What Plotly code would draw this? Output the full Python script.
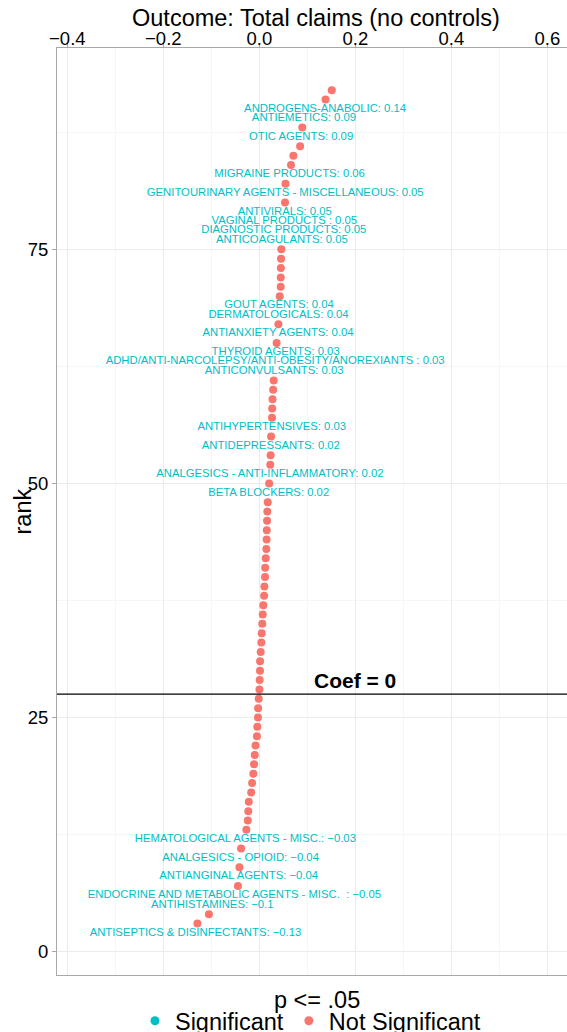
import plotly.graph_objects as go

# Drug classes ranked by coefficient (outcome: total claims, no controls)
# Classes that are not significant at p <= .05: drawn as points
ns_rank = [3, 4, 7, 9, 11,
           13, 14, 15, 16, 17, 18, 19, 20, 21, 22, 23, 24, 25, 26, 27, 28, 29, 30,
           31, 32, 33, 34, 35, 36, 37, 38, 39, 40, 41, 42, 43, 44, 45, 46, 47, 48,
           50, 52, 53, 55, 57, 58, 59, 60, 61, 65, 67, 70, 71, 72, 73, 74, 75,
           80, 82, 84, 85, 86, 88, 91, 92]
ns_coef = [-0.129, -0.105, -0.0445, -0.0415, -0.038,
           -0.027, -0.024, -0.023, -0.022, -0.017, -0.015, -0.0125, -0.011, -0.0095,
           -0.008, -0.005, -0.0042, -0.0028, -0.0025, -0.0013, 0.0002, 0.0008, 0.0014,
           0.0016, 0.0029, 0.0042, 0.0050, 0.0062, 0.0071, 0.0083, 0.0100, 0.0106,
           0.0119, 0.0121, 0.0133, 0.0146, 0.0152, 0.0155, 0.0161, 0.0167, 0.0175,
           0.0205, 0.0228, 0.0235, 0.0245, 0.0264, 0.0268, 0.0275, 0.0288, 0.0300,
           0.036, 0.0398, 0.0425, 0.0445, 0.0447, 0.0449, 0.0452, 0.0458,
           0.0535, 0.0545, 0.066, 0.071, 0.085, 0.0895, 0.138, 0.151]

# Classes significant at p <= .05: drawn as labels "CLASS: coef"
sig_rank = [2, 5, 6, 8, 10, 12, 49, 51, 54, 56, 62, 63, 64, 66, 68, 69,
            76, 77, 78, 79, 81, 83, 87, 89, 90]
sig_class = [
    "ANTISEPTICS & DISINFECTANTS",
    "ANTIHISTAMINES",
    "ENDOCRINE AND METABOLIC AGENTS - MISC.\u00a0 ",
    "ANTIANGINAL AGENTS",
    "ANALGESICS - OPIOID",
    "HEMATOLOGICAL AGENTS - MISC.",
    "BETA BLOCKERS",
    "ANALGESICS - ANTI-INFLAMMATORY",
    "ANTIDEPRESSANTS",
    "ANTIHYPERTENSIVES",
    "ANTICONVULSANTS",
    "ADHD/ANTI-NARCOLEPSY/ANTI-OBESITY/ANOREXIANTS ",
    "THYROID AGENTS",
    "ANTIANXIETY AGENTS",
    "DERMATOLOGICALS",
    "GOUT AGENTS",
    "ANTICOAGULANTS",
    "DIAGNOSTIC PRODUCTS",
    "VAGINAL PRODUCTS ",
    "ANTIVIRALS",
    "GENITOURINARY AGENTS - MISCELLANEOUS",
    "MIGRAINE PRODUCTS",
    "OTIC AGENTS",
    "ANTIEMETICS",
    "ANDROGENS-ANABOLIC",
]
sig_coef = [-0.133, -0.098, -0.052, -0.043, -0.039, -0.029, 0.0195, 0.022, 0.024,
            0.026, 0.031, 0.033, 0.034, 0.039, 0.040, 0.041, 0.047, 0.051, 0.052,
            0.053, 0.054, 0.063, 0.087, 0.093, 0.137]

x_range = [-0.4215, 0.641]
y_range = [-2.5, 96.5]
zero_line_rank = 27.5

RED = "#F8766D"
CYAN = "#00BFC4"
FONT = "Liberation Sans, Arial, Helvetica, sans-serif"
GRID = "#EBEBEB"
GRID_MINOR = "#F6F6F6"
AXIS = "#A8A8A8"


def fmt(v):
    s = f"{round(v, 2):g}"
    return s.replace("-", "\u2212")


sig_text = [f"{name}: {fmt(v)}" for name, v in zip(sig_class, sig_coef)]

fig = go.Figure()

fig.add_trace(go.Scatter(
    x=ns_coef, y=ns_rank, mode="markers",
    marker=dict(color=RED, size=8, line=dict(width=0)),
    name="Not Significant", showlegend=False, hoverinfo="x+y",
))
fig.add_trace(go.Scatter(
    x=sig_coef, y=sig_rank, mode="text", text=sig_text,
    textposition="middle center",
    textfont=dict(color=CYAN, size=11.3, family=FONT),
    name="Significant", showlegend=False,
))

# legend keys
fig.add_trace(go.Scatter(x=[None], y=[None], mode="markers",
                         marker=dict(color=CYAN, size=9), name="Significant"))
fig.add_trace(go.Scatter(x=[None], y=[None], mode="markers",
                         marker=dict(color=RED, size=9), name="Not Significant"))

fig.add_shape(type="line", xref="paper", x0=0, x1=1, yref="y",
              y0=zero_line_rank, y1=zero_line_rank,
              line=dict(color="black", width=1.2), layer="above")
fig.add_annotation(x=0.2, y=zero_line_rank + 1.5, xref="x", yref="y",
                   text="<b>Coef = 0</b>", showarrow=False,
                   font=dict(size=21, color="black", family=FONT),
                   xanchor="center", yanchor="middle")

# axis titles
fig.add_annotation(x=0.5078, y=1.0324, xref="paper", yref="paper",
                   text="Outcome: Total claims (no controls)", showarrow=False,
                   font=dict(size=23.5, color="black", family=FONT),
                   xanchor="center", yanchor="middle")
fig.add_annotation(x=-0.0686, y=0.5, xref="paper", yref="paper",
                   text="rank", textangle=-90, showarrow=False,
                   font=dict(size=23.5, color="black", family=FONT),
                   xanchor="center", yanchor="middle")

# legend title, set above the horizontal legend row
fig.add_annotation(x=0.509, y=-0.027, xref="paper", yref="paper",
                   text="p &lt;= .05", showarrow=False,
                   font=dict(size=23.5, color="black", family=FONT),
                   xanchor="center", yanchor="middle")

fig.update_layout(
    width=567, height=1032,
    margin=dict(l=57, r=0, t=48, b=57, autoexpand=False),
    paper_bgcolor="white", plot_bgcolor="white",
    font=dict(family=FONT, color="black"),
    showlegend=True,
    legend=dict(
        orientation="h", x=0.497, xanchor="center", y=-0.0496, yanchor="middle",
        font=dict(size=23.5, family=FONT, color="black"),
        bgcolor="rgba(0,0,0,0)", itemwidth=30, tracegroupgap=0,
    ),
    xaxis=dict(
        side="top", range=x_range, tickmode="linear", tick0=0, dtick=0.2,
        tickformat=".1f", showline=True, linecolor=AXIS, linewidth=1, mirror=True,
        ticks="outside", ticklen=4, tickcolor=AXIS, ticklabelstandoff=-9,
        tickfont=dict(size=18.5, family=FONT, color="black"),
        showgrid=True, gridcolor=GRID, gridwidth=1, zeroline=False,
        minor=dict(tick0=0, dtick=0.1, showgrid=True, gridcolor=GRID_MINOR, ticks=""),
    ),
    yaxis=dict(
        range=y_range, tickmode="linear", tick0=0, dtick=25,
        showline=True, linecolor=AXIS, linewidth=1,
        ticks="outside", ticklen=4, tickcolor=AXIS,
        tickfont=dict(size=18.5, family=FONT, color="black"),
        showgrid=True, gridcolor=GRID, gridwidth=1, zeroline=False,
        minor=dict(tick0=0, dtick=12.5, showgrid=True, gridcolor=GRID_MINOR, ticks=""),
    ),
)

fig.write_html("out.html")
